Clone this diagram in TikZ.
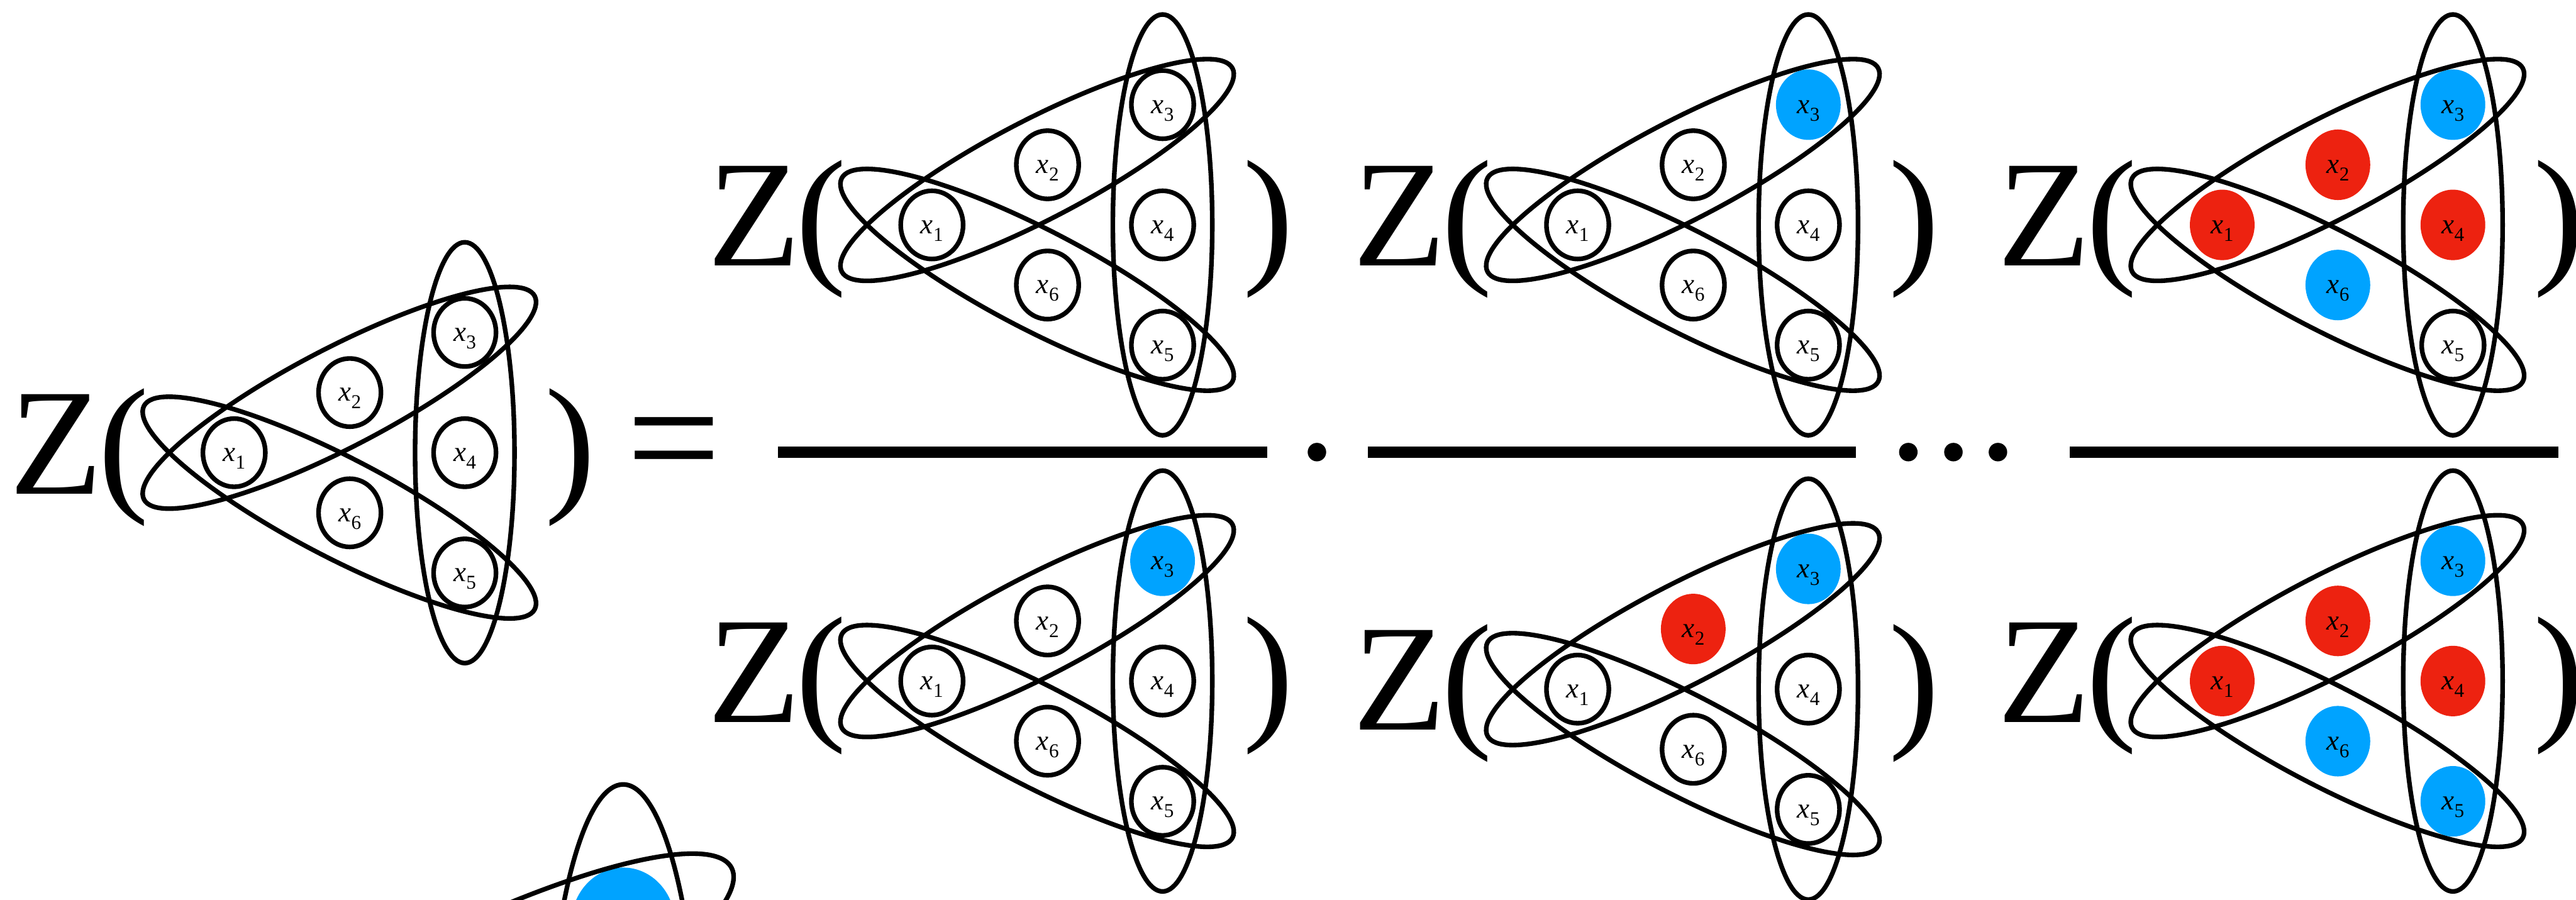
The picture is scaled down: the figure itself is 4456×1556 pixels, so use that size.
\documentclass[tikz,border=0pt]{standalone}
\usepackage{fontspec}
\setmainfont{Liberation Serif}
\usetikzlibrary{shapes.geometric}
\definecolor{nblue}{RGB}{0,163,255}
\definecolor{nred}{RGB}{237,34,16}
\newcommand\vlab[1]{\textit{x}\kern0.05pt\raisebox{-1.3pt}{\fontsize{3.4pt}{3.4pt}\selectfont #1}}
\newcommand\bigsymfont{\fontsize{26.3pt}{26.3pt}\selectfont}
\tikzset{
  vtx/.style={ellipse, draw, line width=0.8pt, minimum width=10.8pt, minimum height=11.8pt,
    inner sep=0pt, text height=3pt, text depth=0pt, font=\fontsize{4.9pt}{4.9pt}\selectfont},
  vw/.style={vtx},
  vb/.style={vtx, draw=none, fill=nblue, minimum width=11.2pt, minimum height=12.2pt},
  vr/.style={vtx, draw=none, fill=nred, minimum width=11.2pt, minimum height=12.2pt},
  hedge/.style={line width=0.8pt},
  sym/.style={inner sep=0pt, anchor=base west, font=\bigsymfont},
  dotm/.style={circle, fill=black, inner sep=0pt, minimum size=3.2pt},
  fracbar/.style={fill=black}
}
% #1 prefix, #2 x, #3 y, #4..#9 styles of x1..x6
\newcommand\hgraph[9]{%
  \begin{scope}[shift={(#2,#3)}]
    \node[#4] (#1-1) at (-399,0) {\vlab{1}};
    \node[#5] (#1-2) at (-199,-104) {\vlab{2}};
    \node[#6] (#1-3) at (0,-208) {\vlab{3}};
    \node[#7] (#1-4) at (0,0) {\vlab{4}};
    \node[#8] (#1-5) at (0,208) {\vlab{5}};
    \node[#9] (#1-6) at (-199,104) {\vlab{6}};
    \draw[hedge] (0,0) ellipse [x radius=8.6pt, y radius=36.4pt];
    \draw[hedge, rotate around={27.5:(-217,-95)}] (-217,-95) ellipse [x radius=38.1pt, y radius=8.6pt];
    \draw[hedge, rotate around={-27.5:(-217,95)}] (-217,95) ellipse [x radius=38.1pt, y radius=8.6pt];
    \node[sym] (#1-Z) at (-789,71) {Z};
    \node[sym] (#1-lp) at (-636,71) {(};
    \node[sym] (#1-rp) at (137,71) {)};
  \end{scope}}
\begin{document}
\begin{tikzpicture}[x=0.1pt, y=-0.1pt]
  \useasboundingbox (0,0) rectangle (4456,1556);
  \clip (0,0) rectangle (4456,1556);
  % left-hand side
  \hgraph{L}{804}{783}{vw}{vw}{vw}{vw}{vw}{vw}
  \node[sym, font=\fontsize{29pt}{29pt}\selectfont] (eq) at (1082,854) {=};
  % numerators
  \hgraph{A}{2011}{389}{vw}{vw}{vw}{vw}{vw}{vw}
  \hgraph{B}{3128}{389}{vw}{vw}{vb}{vw}{vw}{vw}
  \hgraph{C}{4243}{389}{vr}{vr}{vb}{vr}{vw}{vb}
  % denominators
  \hgraph{D}{2011}{1178}{vw}{vw}{vb}{vw}{vw}{vw}
  \hgraph{E}{3128}{1192}{vw}{vr}{vb}{vw}{vw}{vw}
  \hgraph{F}{4243}{1178}{vr}{vr}{vb}{vr}{vb}{vb}
  % fraction bars and dots
  \fill[fracbar] (1346,772) rectangle (2192,792);
  \fill[fracbar] (2366,772) rectangle (3210,792);
  \fill[fracbar] (3580,772) rectangle (4425,792);
  \node[dotm] (dot0) at (2278,782) {};
  \node[dotm] (dot1) at (3301,782) {};
  \node[dotm] (dot2) at (3379,782) {};
  \node[dotm] (dot3) at (3456,782) {};
  % partial enlarged graph at the bottom edge
  \begin{scope}[shift={(1078,1921)}, scale=1.55]
    \node[vb, minimum width=18pt, minimum height=19.6pt] (P-3) at (0,-208) {};
    \draw[hedge] (0,0) ellipse [x radius=8.6pt, y radius=36.4pt];
    \draw[hedge, rotate around={27.5:(-217,-95)}] (-217,-95) ellipse [x radius=38.1pt, y radius=8.6pt];
  \end{scope}
\end{tikzpicture}
\end{document}
